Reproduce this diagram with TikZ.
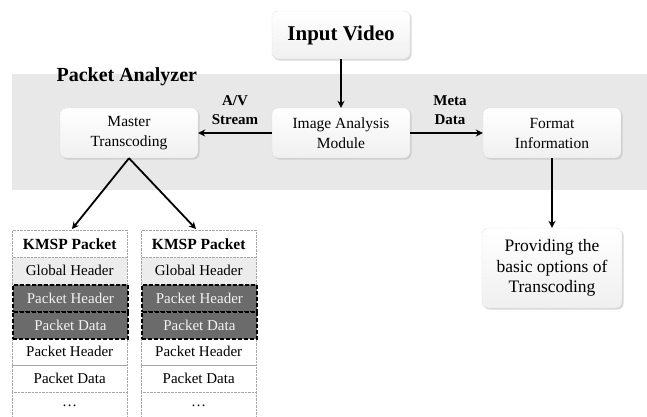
\documentclass[tikz,border=0pt]{standalone}
\usepackage{fontspec}
\setmainfont{Liberation Serif}
\usetikzlibrary{arrows.meta,shadows,positioning}
\tikzset{
  x=1pt, y=-1pt,
  procbox/.style={draw=gray!55, densely dotted, rounded corners=6pt, top color=white, bottom color=gray!12,
    drop shadow={shadow xshift=1.5pt, shadow yshift=-1.5pt, fill=gray!50, opacity=0.6},
    minimum width=138pt, minimum height=50pt, align=center, inner sep=2pt,
    font=\fontsize{15.5}{20}\selectfont},
  flow/.style={line width=1.8pt, -{Stealth[length=7pt,width=7pt]}},
  lbl/.style={font=\fontsize{15}{19}\selectfont\bfseries, align=center},
  cell/.style={draw=gray!70, densely dotted, minimum width=115pt, minimum height=27pt, inner sep=0pt,
    font=\fontsize{15}{17}\selectfont, anchor=north west},
  darkcell/.style={cell, draw=black, solid, dash pattern=on 4pt off 2pt, line width=1.8pt, fill=black!58, text=white!90!gray},
  lightcell/.style={cell, fill=gray!15},
}
\begin{document}
\begin{tikzpicture}
\useasboundingbox (0,0) rectangle (647,416);

% analyzer band
\fill[gray!18] (12,74) rectangle (647,190);
\node[font=\fontsize{20}{22}\selectfont\bfseries, anchor=west] (title) at (53,77) {Packet Analyzer};

% processing boxes
\node[procbox, minimum height=48pt, font=\fontsize{21}{23}\selectfont\bfseries] (input) at (341,35) {Input Video};
\node[procbox] (master) at (129,133) {Master\\Transcoding};
\node[procbox] (image) at (341,133) {Image Analysis\\Module};
\node[procbox] (format) at (552,133) {Format\\Information};
\node[procbox, minimum width=140pt, minimum height=80pt, font=\fontsize{17.5}{20.5}\selectfont] (provide) at (552,268) {Providing the\\basic options of\\Transcoding};

% connectors
\draw[flow] (input.south) -- (image.north);
\draw[flow] (image.west) -- (master.east);
\draw[flow] (image.east) -- (format.west);
\draw[flow] (format.south) -- (provide.north);
\node[lbl] (avlbl) at (235,110) {A/V\\Stream};
\node[lbl] (metalbl) at (450,110) {Meta\\Data};

% packet columns
\foreach \c/\x in {a/12, b/141} {
  \node[cell, font=\fontsize{15.5}{17}\selectfont\bfseries] (\c1) at (\x,230) {KMSP Packet};
  \node[lightcell] (\c2) at (\x,257) {Global Header};
  \node[cell] (\c5) at (\x,338) {Packet Header};
  \node[cell] (\c6) at (\x,365) {Packet Data};
  \draw[gray!70, densely dotted] (\x,392) -- (\x,416) (\x+115,392) -- (\x+115,416);
  \node[font=\fontsize{15}{17}\selectfont] (\c7) at (\x+57.5,406) {\dots};
  \node[darkcell] (\c3) at (\x,284) {Packet Header};
  \node[darkcell] (\c4) at (\x,311) {Packet Data};
}
\coordinate (split) at (master.south);
\draw[flow] (split) -- (72,229);
\draw[flow] (split) -- (196,229);
\end{tikzpicture}
\end{document}
